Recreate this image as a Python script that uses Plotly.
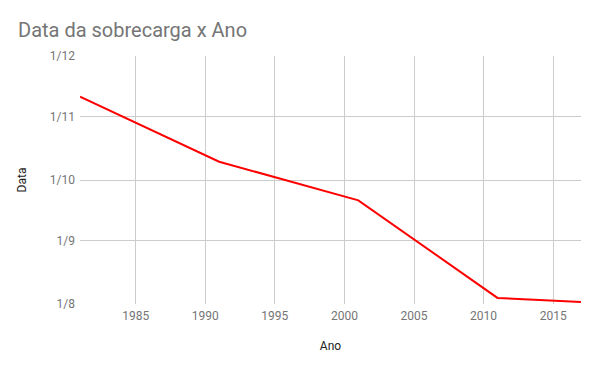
import plotly.graph_objects as go

anos = [1981, 1991, 2001, 2011, 2017]
datas = ["2017-11-11", "2017-10-10", "2017-09-21", "2017-08-04", "2017-08-02"]
y_ticks = ["2017-08-01", "2017-09-01", "2017-10-01", "2017-11-01", "2017-12-01"]
y_labels = ["1/8", "1/9", "1/10", "1/11", "1/12"]
x_ticks = [1985, 1990, 1995, 2000, 2005, 2010, 2015]

fig = go.Figure()
fig.add_trace(go.Scatter(x=anos, y=datas, mode="lines",
                         line=dict(color="#ff0000", width=2), showlegend=False))

fig.update_layout(
    width=600, height=371,
    margin=dict(l=72, r=27, t=48, b=75),
    paper_bgcolor="white", plot_bgcolor="white",
    font=dict(family="Roboto", size=12, color="#757575"),
    title=dict(text="Data da sobrecarga x Ano", x=10/600, xanchor="left",
               y=1-22/371, yanchor="middle",
               font=dict(family="Roboto", size=20, color="#757575")),
    xaxis=dict(range=[1981, 2017], tickvals=x_ticks, ticktext=[str(v) for v in x_ticks],
               showgrid=True, gridcolor="#cccccc", gridwidth=1, zeroline=False,
               showline=False, ticks="", ticklabelstandoff=3,
               tickfont=dict(size=12, color="#757575"),
               title=dict(text="Ano", font=dict(size=12, color="#222222"), standoff=19)),
    yaxis=dict(type="date", range=["2017-08-01", "2017-12-01"], tickvals=y_ticks,
               ticktext=y_labels, showgrid=True, gridcolor="#cccccc", gridwidth=1,
               zeroline=False, showline=False, ticks="", ticklabelstandoff=4,
               tickfont=dict(size=12, color="#757575"),
               title=dict(text="Data", font=dict(size=12, color="#222222"), standoff=20)),
)
fig.write_html("out.html")
